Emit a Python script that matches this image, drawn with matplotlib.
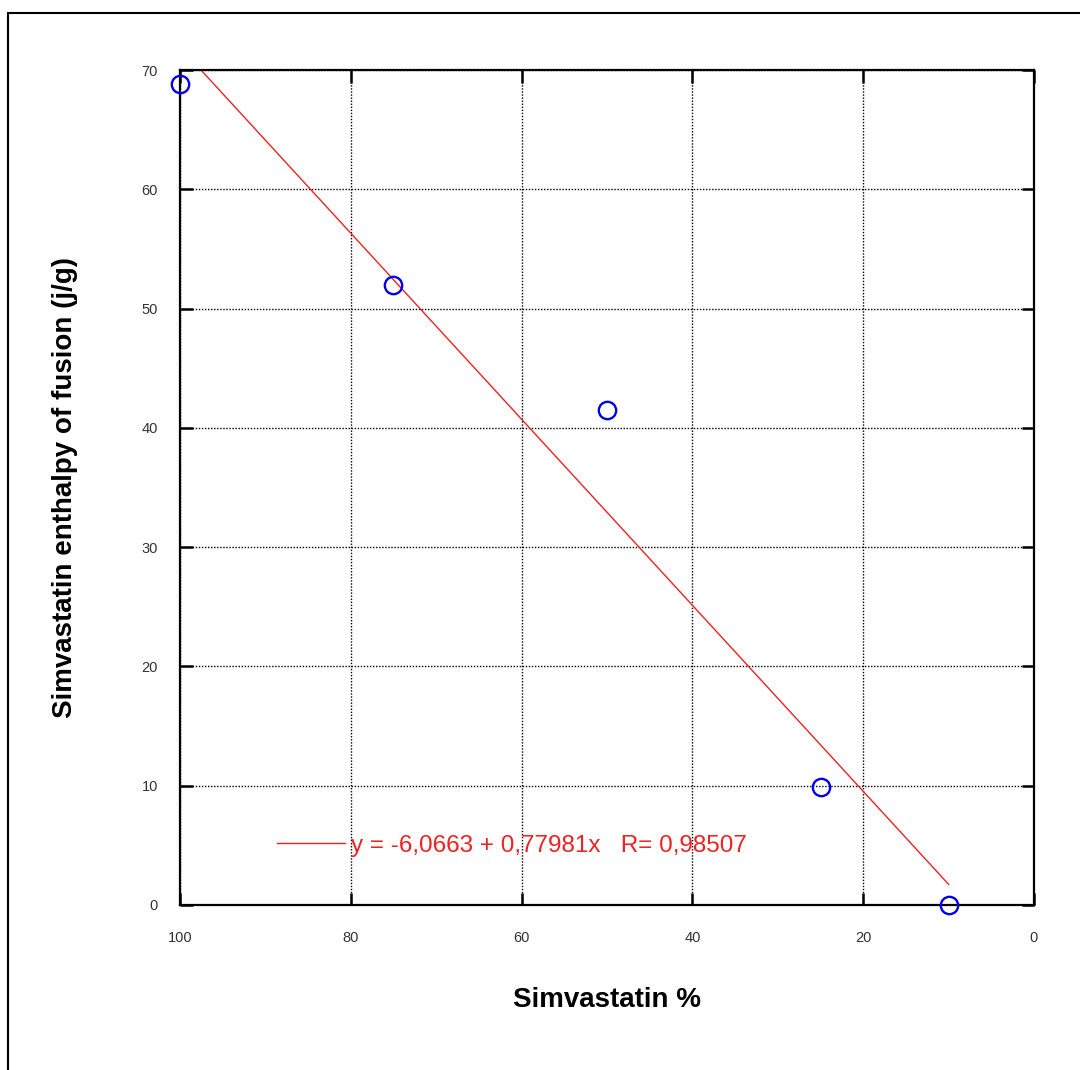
import numpy as np
import matplotlib.pyplot as plt
from matplotlib.patches import Rectangle

plt.rcParams['font.family'] = ['Liberation Sans', 'DejaVu Sans']

simva_pct = [100, 75, 50, 25, 10]
enthalpy = [68.8, 52.0, 41.5, 9.9, 0.0]

fit_a = -6.0663
fit_b = 0.77981
fit_r = 0.98507
fit_x = np.array([100, 10])
fit_y = fit_a + fit_b * fit_x

fig = plt.figure(figsize=(10.8, 10.7), dpi=100)
fig.patches.append(Rectangle((8 / 1080, -0.01), 1.02, 1 - 13 / 1070 + 0.01,
                             transform=fig.transFigure, fill=False,
                             edgecolor='black', linewidth=1.5, zorder=0))

ax = fig.add_axes([180 / 1080, 165 / 1070, 854 / 1080, 835 / 1070])

label = f'y = {fit_a:.4f} + {fit_b:.5f}x   R= {fit_r:.5f}'.replace('.', ',')
ax.plot(fit_x, fit_y, color='#ee2222', linewidth=1.0, label=label)
ax.plot(simva_pct, enthalpy, 'o', markersize=12.5, markerfacecolor='none',
        markeredgecolor='#0000ee', markeredgewidth=1.7, clip_on=False, zorder=5)

ax.set_xlim(100, 0)
ax.set_ylim(0, 70)
ax.set_xticks([100, 80, 60, 40, 20, 0])
ax.set_yticks(range(0, 71, 10))
ax.grid(True, color='black', linestyle=(0, (1, 1.2)), linewidth=1.0)
ax.tick_params(direction='in', length=9, width=1.8, top=True, right=True,
               labelsize=10.5, labelcolor='#333333')
ax.tick_params(axis='x', pad=19)
ax.tick_params(axis='y', pad=16)
for s in ax.spines.values():
    s.set_linewidth(1.6)

ax.set_xlabel('Simvastatin %', fontsize=20, fontweight='bold', labelpad=30)
ax.set_ylabel('Simvastatin enthalpy of fusion (j/g)', fontsize=20,
              fontweight='bold', labelpad=46)

ax.legend(loc='center left', bbox_to_anchor=(0.0995, 0.071), frameon=False,
          fontsize=17.5, labelcolor='#ee2222', handlelength=2.8,
          handletextpad=0.25, borderpad=0)

fig.savefig('out.png', dpi=100)
